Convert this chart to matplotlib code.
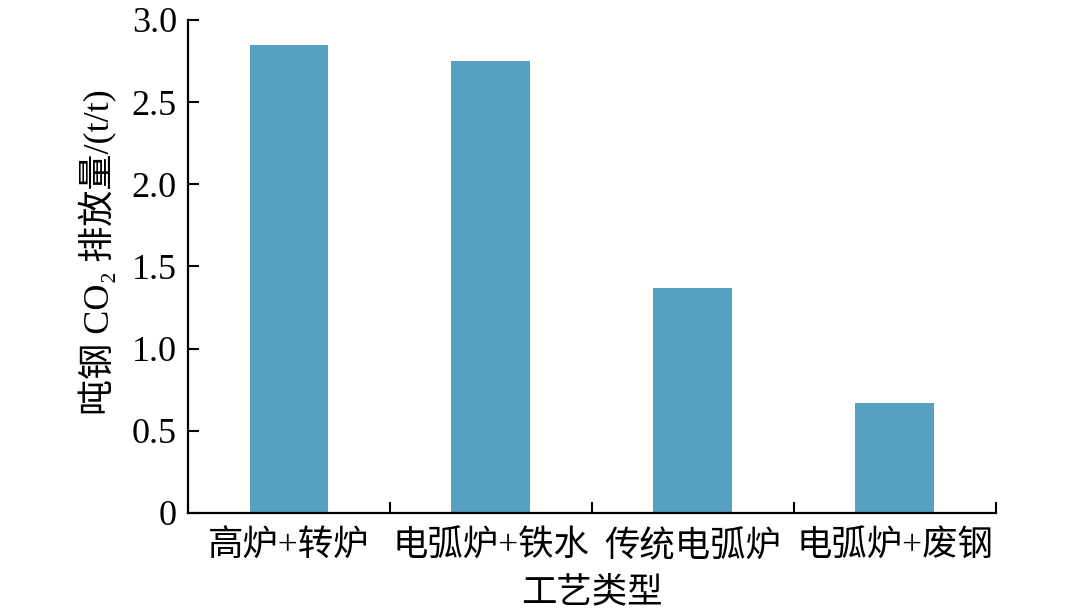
import matplotlib
matplotlib.use("Agg")
import matplotlib.pyplot as plt
from matplotlib.ticker import FixedLocator

categories = ["高炉+转炉", "电弧炉+铁水", "传统电弧炉", "电弧炉+废钢"]
values = [2.85, 2.75, 1.37, 0.67]
yticks = [0, 0.5, 1.0, 1.5, 2.0, 2.5, 3.0]
ytick_labels = ["0", "0.5", "1.0", "1.5", "2.0", "2.5", "3.0"]

fam = ["Liberation Serif", "Noto Sans CJK SC", "DejaVu Sans"]
plt.rcParams["font.family"] = fam

fig = plt.figure(figsize=(10.8, 6.11), dpi=100)
ax = fig.add_axes([0.174, 0.1604, 0.748, 0.807])

x = list(range(len(categories)))
ax.bar(x, values, width=0.39, color="#56a0c0")

ax.set_xlim(-0.5, len(categories) - 0.5)
ax.set_ylim(0, 3.0)
ax.set_yticks(yticks)
ax.set_yticklabels(ytick_labels, fontsize=26)
ax.set_xticks(x)
ax.set_xticklabels(categories, fontsize=25.5)
ax.xaxis.set_minor_locator(FixedLocator([i + 0.5 for i in x]))

ax.tick_params(axis="x", which="major", length=0, pad=13)
ax.tick_params(axis="x", which="minor", direction="in", length=8, width=1.5)
ax.tick_params(axis="y", which="major", direction="in", length=8, width=1.5, pad=8)

for s in ["top", "right"]:
    ax.spines[s].set_visible(False)
for s in ["left", "bottom"]:
    ax.spines[s].set_linewidth(1.6)

ax.set_ylabel("吨钢 CO₂ 排放量/(t/t)", fontsize=26)
ax.yaxis.set_label_coords(-0.087, 0.53)
ax.set_xlabel("工艺类型", fontsize=25.5, labelpad=9)

fig.savefig("out.png", dpi=100)
